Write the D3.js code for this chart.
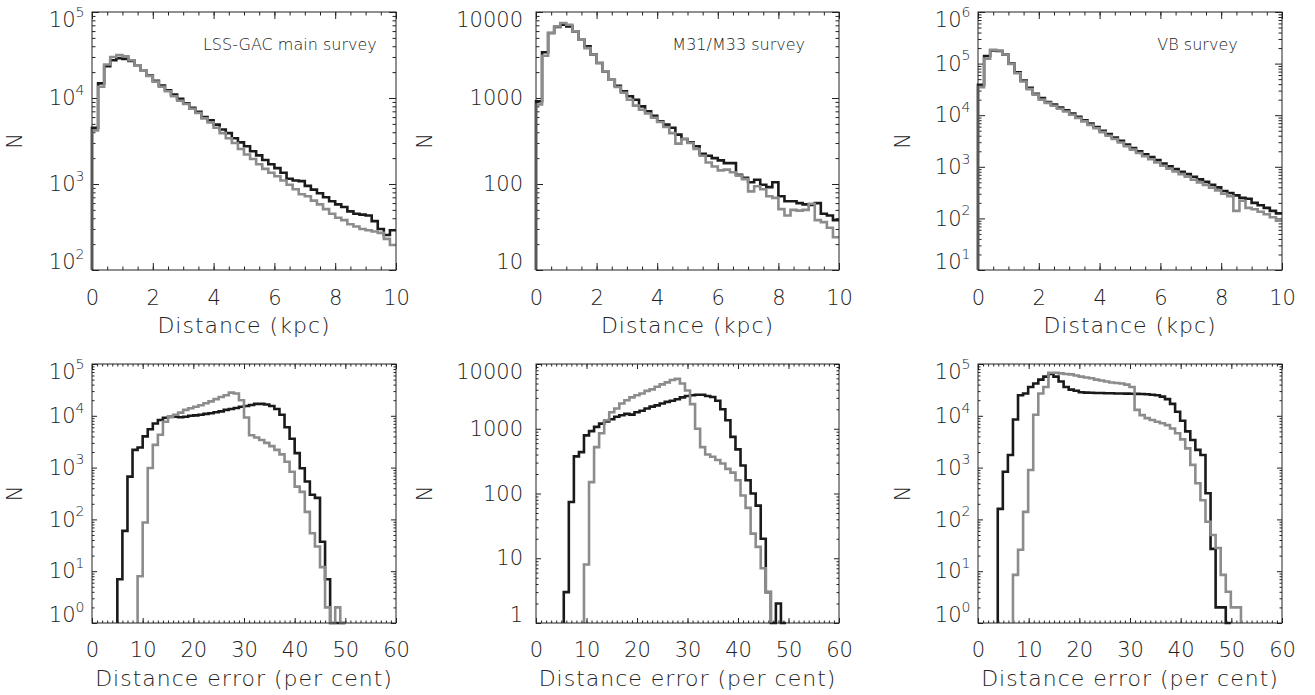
<!DOCTYPE html>
<html>
<head>
<meta charset="utf-8">
<script src="https://cdn.jsdelivr.net/npm/d3@7"></script>
<style>
  body { margin: 0; background: #fff; }
  svg text { font-family: "DejaVu Sans", sans-serif; font-weight: 200; fill: #222; }
  .tick text { font-size: 21px; }
  .axis-title { font-size: 22px; letter-spacing: 1px; }
</style>
</head>
<body>
<svg id="fig" width="1315" height="695"></svg>
<script>
// ---- distance histograms: 0.2 kpc bins, 0 - 10 kpc ----
const distBinWidth = 0.2;
const lssDistDark = [4500, 14800, 23500, 27500, 29000, 28500, 27000, 24000, 21000, 18200,
  15800, 14000, 12300, 11000, 9800, 8700, 7700, 6900, 6000, 5500,
  4900, 4300, 3900, 3400, 3050, 2750, 2400, 2150, 1900, 1700,
  1530, 1350, 1150, 1100, 1080, 950, 860, 780, 700, 630,
  580, 540, 480, 450, 440, 430, 370, 300, 255, 290];
const lssDistGrey = [4200, 13500, 24500, 30000, 31500, 30500, 27500, 24000, 21000, 18000,
  15500, 13500, 12000, 10500, 9300, 8500, 7500, 6700, 5800, 5200,
  4500, 3900, 3400, 3000, 2550, 2200, 1950, 1700, 1500, 1350,
  1230, 1100, 980, 870, 760, 720, 640, 580, 510, 450,
  405, 380, 340, 320, 300, 290, 280, 270, 230, 195];
const m31DistDark = [915, 3400, 5700, 6700, 7100, 6800, 5950, 4760, 4000, 3200,
  2550, 2040, 1630, 1390, 1200, 1050, 955, 800, 700, 620,
  535, 490, 450, 375, 334, 305, 275, 225, 213, 200,
  188, 175, 175, 128, 118, 105, 112, 98, 92, 105,
  72, 63, 63, 60, 58, 57, 60, 45, 43, 38];
const m31DistGrey = [840, 3100, 5700, 6800, 7450, 7100, 5950, 4760, 3800, 3200,
  2550, 2040, 1630, 1340, 1150, 955, 815, 730, 660, 590,
  525, 460, 390, 295, 334, 300, 255, 213, 178, 160,
  144, 147, 137, 125, 114, 82, 94, 87, 72, 69,
  51, 43, 50, 49, 50, 59, 38, 36, 31, 24];
const vbDistDark = [39000, 140000, 180000, 175000, 150000, 100000, 68000, 47000, 34000, 26000,
  21500, 18000, 16000, 14000, 12500, 10800, 9300, 8000, 6900, 5900,
  5000, 4300, 3700, 3200, 2700, 2300, 2000, 1750, 1550, 1350,
  1150, 1020, 900, 800, 720, 640, 570, 510, 450, 400,
  340, 310, 280, 250, 240, 200, 180, 160, 140, 125];
const vbDistGrey = [35000, 125000, 185000, 180000, 150000, 98000, 65000, 45000, 32000, 25000,
  20000, 17300, 15200, 13300, 11800, 10200, 8800, 7600, 6500, 5600,
  4700, 4000, 3450, 2950, 2500, 2150, 1850, 1600, 1400, 1220,
  1050, 920, 810, 720, 640, 560, 500, 445, 395, 350,
  300, 270, 140, 220, 160, 150, 135, 120, 105, 90];

// ---- distance error histograms: 1 per cent bins, first bin edge given ----
const errBinWidth = 1;
const lssErrDarkStart = 5;
const lssErrDark = [7, 60, 670, 2200, 2450, 4000, 5500, 7100, 8300, 9200,
  9600, 9600, 9400, 9600, 10000, 10200, 10500, 10900, 11200, 11700,
  12200, 13000, 13500, 14100, 15000, 15500, 16200, 17000, 17000, 16500,
  15500, 13500, 10500, 6000, 3600, 1900, 970, 540, 300, 260,
  37, 7, 0, 0, 0];
const lssErrGreyStart = 9;
const lssErrGrey = [8, 87, 980, 2750, 4300, 7700, 9400, 10500, 11500, 13000,
  14000, 15000, 16000, 17500, 19000, 21000, 23000, 25000, 28000, 27000,
  20000, 9300, 4200, 3800, 3400, 3000, 2600, 2200, 1800, 1300,
  830, 430, 340, 140, 54, 30, 12, 2, 0, 2, 0];
const m31ErrDarkStart = 5.5;
const m31ErrDark = [3, 74, 375, 435, 790, 920, 1070, 1200, 1300, 1400,
  1530, 1620, 1700, 1650, 1800, 1900, 2050, 2200, 2300, 2450,
  2600, 2700, 2850, 3050, 3200, 3300, 3350, 3350, 3200, 3100,
  2700, 2000, 1350, 750, 480, 270, 160, 100, 65, 20,
  3, 0, 2, 0];
const m31ErrGreyStart = 9.5;
const m31ErrGrey = [8, 150, 520, 850, 1350, 1800, 2050, 2450, 2750, 3050,
  3300, 3500, 3850, 4050, 4450, 4850, 5200, 5650, 5900, 5000,
  3900, 2400, 1000, 520, 400, 370, 330, 290, 240, 210,
  160, 93, 60, 24, 15, 7, 3];
const vbErrDarkStart = 3.9;
const vbErrDark = [160, 830, 1750, 8500, 25000, 27000, 36000, 42000, 50000, 57000,
  64000, 57000, 46000, 36000, 32000, 30500, 28500, 28000, 27800, 27600,
  27500, 27300, 27200, 27000, 27000, 26800, 26700, 26500, 26300, 26000,
  25500, 25000, 23500, 21000, 17000, 12000, 8000, 5000, 3400, 2200,
  1750, 320, 27, 2, 2, 0];
const vbErrGreyStart = 6.9;
const vbErrGrey = [8.5, 26, 140, 900, 10500, 27000, 36000, 68000, 68000, 66000,
  64000, 63000, 60000, 57000, 55000, 53000, 50000, 48000, 46000, 44000,
  43000, 42000, 40000, 36000, 13000, 10300, 9000, 8300, 7700, 7200,
  6600, 5700, 4600, 3500, 2350, 1130, 500, 235, 90, 50,
  28, 8.5, 4, 2, 2];

// ---- labels and axis ranges ----
const surveyNames = ["LSS-GAC main survey", "M31/M33 survey", "VB survey"];
const surveyNameAt = [3.65, 4.5, 5.9];     // kpc where the survey name starts
const distTicks = [0, 2, 4, 6, 8, 10];
const errTicks = [0, 10, 20, 30, 40, 50, 60];
const distYDomains = [[1e2, 1e5], [10, 1e4], [10, 1e6]];
const errYDomains = [[1, 1e5], [1, 1e4], [1, 1e5]];
const powerLabels = [true, false, true];   // 10^n style or plain numbers

// page layout
const cols = [[92, 396], [536, 839], [978, 1282]];
const rows = [[12, 270], [364, 623]];
const nLabelX = [15, 425, 903];
const darkColor = "#1a1a1a", greyColor = "#8c8c8c";

const svg = d3.select("#fig");

const distDark = [lssDistDark, m31DistDark, vbDistDark];
const distGrey = [lssDistGrey, m31DistGrey, vbDistGrey];
const errDark = [lssErrDark, m31ErrDark, vbErrDark];
const errGrey = [lssErrGrey, m31ErrGrey, vbErrGrey];
const errDarkStart = [lssErrDarkStart, m31ErrDarkStart, vbErrDarkStart];
const errGreyStart = [lssErrGreyStart, m31ErrGreyStart, vbErrGreyStart];

// step outline of a histogram; rises from the floor at the first edge,
// and (optionally) drops back to the floor after the last bin
function stepPoints(vals, start, width, floor, dropAtEnd) {
  const pts = [[start, floor]];
  vals.forEach((v, i) => pts.push([start + i * width, Math.max(v, floor)]));
  const last = Math.max(vals[vals.length - 1], floor);
  pts.push([start + vals.length * width, dropAtEnd ? floor : last]);
  return pts;
}

function drawPanel(p) {
  const [left, right] = cols[p.col];
  const [top, bottom] = rows[p.row];
  const w = right - left, h = bottom - top;

  const g = svg.append("g").attr("transform", `translate(${left},${top})`);
  const x = d3.scaleLinear().domain(p.xDomain).range([0, w]);
  const y = d3.scaleLog().domain(p.yDomain).range([h, 0]);

  const lo = Math.round(Math.log10(p.yDomain[0])), hi = Math.round(Math.log10(p.yDomain[1]));
  const decades = d3.range(lo, hi + 1).map(k => Math.pow(10, k));
  const yMinor = [];
  for (let k = lo; k < hi; k++) for (let m = 2; m < 10; m++) yMinor.push(m * Math.pow(10, k));
  const xMinor = d3.range(p.xDomain[0], p.xDomain[1] + 1e-9, p.xMinorStep);

  const noLabel = g => g.call(g => g.select(".domain").remove()).selectAll("text").remove();

  // minor ticks, all four sides, pointing inward
  g.append("g").attr("transform", `translate(0,${h})`)
    .call(d3.axisBottom(x).tickValues(xMinor).tickSize(-p.minorLen).tickSizeOuter(0)).call(noLabel);
  g.append("g")
    .call(d3.axisTop(x).tickValues(xMinor).tickSize(-p.minorLen).tickSizeOuter(0)).call(noLabel);
  g.append("g")
    .call(d3.axisLeft(y).tickValues(yMinor).tickSize(-p.minorLen).tickSizeOuter(0)).call(noLabel);
  g.append("g").attr("transform", `translate(${w},0)`)
    .call(d3.axisRight(y).tickValues(yMinor).tickSize(-p.minorLen).tickSizeOuter(0)).call(noLabel);

  // major ticks
  g.append("g").attr("transform", `translate(0,${h})`)
    .call(d3.axisBottom(x).tickValues(p.xTicks).tickSize(-p.majorLen).tickSizeOuter(0)
      .tickPadding(p.xPad).tickFormat(d3.format("d")))
    .call(g => g.select(".domain").remove());
  g.append("g")
    .call(d3.axisTop(x).tickValues(p.xTicks).tickSize(-p.majorLen).tickSizeOuter(0)).call(noLabel);
  g.append("g").attr("transform", `translate(${w},0)`)
    .call(d3.axisRight(y).tickValues(decades).tickSize(-p.majorLen).tickSizeOuter(0)).call(noLabel);

  g.append("g")
    .call(d3.axisLeft(y).tickValues(decades).tickSize(-p.majorLen).tickSizeOuter(0)
      .tickFormat(d3.format("d")))
    .call(g => g.select(".domain").remove())
    .call(g => g.selectAll(".tick text").each(function(d) {
      const t = d3.select(this);
      const py = y(d);
      // keep the end labels inside the frame, as in the original plot
      const cy = Math.max(8, Math.min(h - 8, py));
      t.attr("y", cy - py).attr("text-anchor", "end");
      if (p.power) {
        t.text(null).attr("x", -7.5);
        t.append("tspan").text("10");
        t.append("tspan").text(Math.round(Math.log10(d)))
          .attr("font-size", 14).attr("dy", "-0.75em");
      } else {
        t.attr("x", -13);
      }
    }));

  g.selectAll(".tick line").attr("stroke", "#222");

  // histograms (grey drawn over black)
  const line = d3.line().x(d => x(d[0])).y(d => y(d[1])).curve(d3.curveStepAfter);
  const floor = p.yDomain[0];
  g.append("path")
    .attr("d", line(stepPoints(p.dark, p.darkStart, p.binWidth, floor, p.dropAtEnd)))
    .attr("fill", "none").attr("stroke", darkColor).attr("stroke-width", 2.6);
  g.append("path")
    .attr("d", line(stepPoints(p.grey, p.greyStart, p.binWidth, floor, p.dropAtEnd)))
    .attr("fill", "none").attr("stroke", greyColor).attr("stroke-width", 2.6);

  // frame
  g.append("rect").attr("width", w).attr("height", h)
    .attr("fill", "none").attr("stroke", "#222").attr("stroke-width", 1);

  if (p.name) {
    g.append("text").attr("x", x(p.nameAt)).attr("y", 38)
      .attr("font-size", 16).text(p.name);
  }

  // axis titles
  g.append("text").attr("class", "axis-title").attr("x", w / 2).attr("y", p.titleY - top)
    .attr("text-anchor", "middle").text(p.xTitle);
  svg.append("text")
    .attr("transform", `translate(${nLabelX[p.col]},${top + h / 2}) rotate(-90)`)
    .attr("text-anchor", "middle").attr("dy", "0.35em").attr("font-size", 21).text("N");
}

for (let i = 0; i < 3; i++) {
  drawPanel({
    row: 0, col: i, xDomain: [0, 10], xTicks: distTicks, xMinorStep: 0.5,
    yDomain: distYDomains[i], power: powerLabels[i],
    dark: distDark[i], grey: distGrey[i], darkStart: 0, greyStart: 0, binWidth: distBinWidth,
    dropAtEnd: false, majorLen: 7, minorLen: 3.5, xPad: 20, titleY: 333,
    xTitle: "Distance (kpc)", name: surveyNames[i], nameAt: surveyNameAt[i]
  });
  drawPanel({
    row: 1, col: i, xDomain: [0, 60], xTicks: errTicks, xMinorStep: 1,
    yDomain: errYDomains[i], power: powerLabels[i],
    dark: errDark[i], grey: errGrey[i], darkStart: errDarkStart[i], greyStart: errGreyStart[i],
    binWidth: errBinWidth, dropAtEnd: true,
    majorLen: 5, minorLen: 2.5, xPad: 19.5, titleY: 686,
    xTitle: "Distance error (per cent)"
  });
}
</script>
</body>
</html>
